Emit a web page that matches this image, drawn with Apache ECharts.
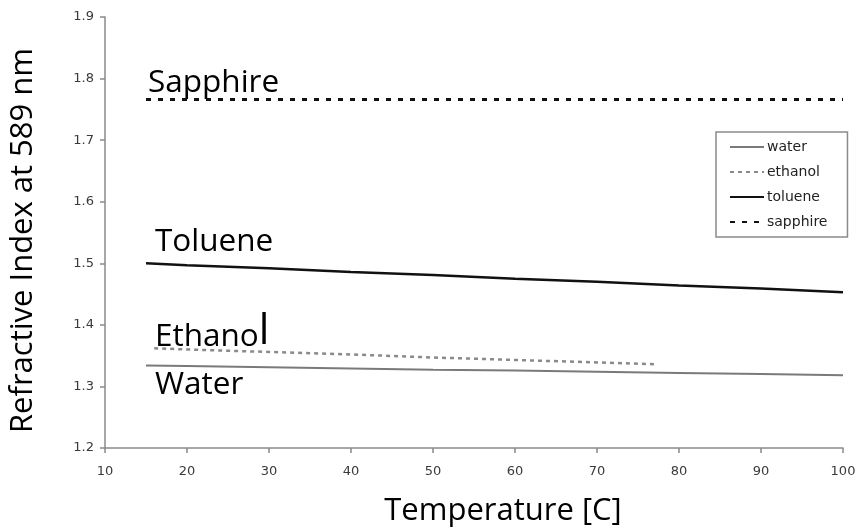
<!DOCTYPE html>
<html>
<head>
<meta charset="utf-8">
<script src="https://cdn.jsdelivr.net/npm/echarts@6/dist/echarts.min.js"></script>
<style>
  html, body { margin: 0; padding: 0; background: #fff; }
  #chart { width: 861px; height: 532px; }
</style>
</head>
<body>
<div id="chart"></div>
<script>
// Refractive index (589 nm) versus temperature for four materials
const waterTemp    = [15, 20, 30, 40, 50, 60, 70, 80, 90, 100];
const waterIndex   = [1.334, 1.333, 1.331, 1.329, 1.327, 1.326, 1.324, 1.322, 1.320, 1.318];

const ethanolTemp  = [16, 20, 30, 40, 50, 60, 70, 77];
const ethanolIndex = [1.362, 1.360, 1.356, 1.352, 1.347, 1.343, 1.339, 1.336];

const tolueneTemp  = [15, 20, 30, 40, 50, 60, 70, 80, 90, 100];
const tolueneIndex = [1.500, 1.497, 1.492, 1.486, 1.481, 1.475, 1.470, 1.464, 1.459, 1.453];

const sapphireTemp  = [15, 100];
const sapphireIndex = [1.766, 1.766];

const seriesNames = ['water', 'ethanol', 'toluene', 'sapphire'];

const pairs = (xs, ys) => xs.map((x, i) => [x, ys[i]]);

const chart = echarts.init(document.getElementById('chart'), null, { renderer: 'canvas' });

const smallFont = 'DejaVu Sans';
const bigFont = 'Open Sans';
const tickFont = { fontFamily: smallFont, fontSize: 13, color: '#3a3a3a' };

chart.setOption({
  backgroundColor: '#fff',
  animation: false,
  grid: { left: 103, right: 18, top: 17, bottom: 82 },
  xAxis: {
    type: 'value',
    min: 10, max: 100, interval: 10,
    axisLine: { lineStyle: { color: '#8a8a8a', width: 1.5 } },
    axisTick: { show: true, length: 5, lineStyle: { color: '#8a8a8a', width: 1.5 } },
    splitLine: { show: false },
    axisLabel: Object.assign({ margin: 17 }, tickFont),
    name: 'Temperature [C]',
    nameLocation: 'middle',
    nameGap: 48,
    nameTextStyle: { fontFamily: bigFont, fontSize: 31, color: '#000', padding: [0, 0, 0, 58] }
  },
  yAxis: {
    type: 'value',
    min: 1.2, max: 1.9, interval: 0.1,
    axisLine: { show: true, lineStyle: { color: '#8a8a8a', width: 1.5 } },
    axisTick: { show: true, length: 5, lineStyle: { color: '#8a8a8a', width: 1.5 } },
    splitLine: { show: false },
    axisLabel: Object.assign({ margin: 11, formatter: v => v.toFixed(1) }, tickFont),
    name: 'Refractive Index at 589 nm',
    nameLocation: 'middle',
    nameGap: 66,
    nameTextStyle: { fontFamily: bigFont, fontSize: 31, color: '#000', padding: [0, 16, 0, 0] }
  },
  legend: {
    data: seriesNames,
    orient: 'vertical',
    left: 716, top: 132,
    itemWidth: 34, itemHeight: 14,
    itemGap: 11,
    padding: [8, 20, 8, 13],
    borderColor: '#8a8a8a',
    borderWidth: 1.5,
    itemStyle: { opacity: 0 },
    textStyle: { fontFamily: smallFont, fontSize: 14, color: '#222', padding: [0, 0, 0, -2] }
  },
  series: [
    {
      name: 'water', type: 'line', symbol: 'none',
      data: pairs(waterTemp, waterIndex),
      lineStyle: { color: '#7a7a7a', width: 2 },
      itemStyle: { color: '#7a7a7a' }
    },
    {
      name: 'ethanol', type: 'line', symbol: 'none',
      data: pairs(ethanolTemp, ethanolIndex),
      lineStyle: { color: '#8a8a8a', width: 2.5, type: [4, 4] },
      itemStyle: { color: '#8a8a8a' }
    },
    {
      name: 'toluene', type: 'line', symbol: 'none',
      data: pairs(tolueneTemp, tolueneIndex),
      lineStyle: { color: '#111', width: 2.5 },
      itemStyle: { color: '#111' }
    },
    {
      name: 'sapphire', type: 'line', symbol: 'none',
      data: pairs(sapphireTemp, sapphireIndex),
      lineStyle: { color: '#111', width: 3, type: [5, 7] },
      itemStyle: { color: '#111' }
    }
  ],
  graphic: [
    { type: 'text', left: 148, top: 67, style: { text: 'Sapphire', fontFamily: bigFont, fontSize: 31.5, fill: '#000' } },
    { type: 'text', left: 155, top: 226, style: { text: 'Toluene', fontFamily: bigFont, fontSize: 31.5, fill: '#000' } },
    {
      type: 'text', left: 155, top: 311,
      style: {
        text: '{a|Ethano}{b|l}',
        rich: {
          a: { fontFamily: bigFont, fontSize: 31.5, fill: '#000', verticalAlign: 'bottom' },
          b: { fontFamily: bigFont, fontSize: 42, fill: '#000', verticalAlign: 'bottom' }
        }
      }
    },
    { type: 'text', left: 155, top: 369, style: { text: 'Water', fontFamily: bigFont, fontSize: 31.5, fill: '#000' } }
  ]
});
</script>
</body>
</html>
